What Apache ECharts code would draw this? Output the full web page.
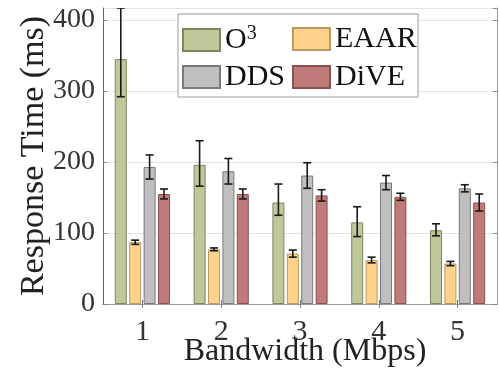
<!DOCTYPE html>
<html>
<head>
<meta charset="utf-8">
<script src="https://cdn.jsdelivr.net/npm/echarts@6/dist/echarts.min.js"></script>
<style>
  html, body { margin: 0; padding: 0; background: #fff; }
  #chart { width: 499px; height: 374px; }
</style>
</head>
<body>
<div id="chart"></div>
<script>
// Bandwidth settings (Mbps)
const categories = ['1', '2', '3', '4', '5'];

// Mean response time (ms) with lower / upper error extents per system
const o3Mean      = [345, 196, 143, 115, 104];
const o3ErrLow    = [53, 30, 18, 20, 8];
const o3ErrHigh   = [72, 34, 26, 22, 9];
const eaarMean    = [87, 77, 71, 62, 57];
const eaarErr     = [3, 2, 5, 4, 3];
const ddsMean     = [193, 187, 181, 171, 163];
const ddsErr      = [17, 18, 18, 10, 5];
const diveMean    = [155, 155, 153, 151, 143];
const diveErr     = [7, 7, 8, 5, 12];

const seriesNames = ['O3', 'EAAR', 'DDS', 'DiVE'];
const means = [o3Mean, eaarMean, ddsMean, diveMean];
const errLow = [o3ErrLow, eaarErr, ddsErr, diveErr];
const errHigh = [o3ErrHigh, eaarErr, ddsErr, diveErr];
const fills = ['#bec89b', '#ffd28c', '#bfbfc0', '#c07a7a'];
const edges = ['#7d8762', '#b89a63', '#7a7a7c', '#8a5252'];

const FONT = 'Liberation Serif';
const BAR_W = 12;
const BAR_GAP = 0.2; // fraction of bar width
const yTicks = [0, 100, 200, 300, 400];

const chart = echarts.init(document.getElementById('chart'), null, { renderer: 'canvas' });

function barOffset(i) {
  const n = seriesNames.length;
  const total = n * BAR_W + (n - 1) * BAR_W * BAR_GAP;
  return -total / 2 + BAR_W / 2 + i * BAR_W * (1 + BAR_GAP);
}

const barSeries = seriesNames.map((name, i) => ({
  name: name,
  type: 'bar',
  data: means[i],
  barWidth: BAR_W,
  barGap: (BAR_GAP * 100) + '%',
  itemStyle: { color: fills[i], borderColor: edges[i], borderWidth: 1 },
  z: 2
}));

const errSeries = seriesNames.map((name, i) => ({
  type: 'custom',
  name: name + '-err',
  clip: true,
  z: 5,
  data: means[i].map((m, k) => [k, m - errLow[i][k], m + errHigh[i][k]]),
  renderItem: function (params, api) {
    const k = api.value(0);
    const lo = api.coord([k, api.value(1)]);
    const hi = api.coord([k, api.value(2)]);
    const x = lo[0] + barOffset(i);
    const cap = 4;
    const style = { stroke: '#1a1a1a', lineWidth: 1.6 };
    return {
      type: 'group',
      children: [
        { type: 'line', shape: { x1: x, y1: lo[1], x2: x, y2: hi[1] }, style: style },
        { type: 'line', shape: { x1: x - cap, y1: lo[1], x2: x + cap, y2: lo[1] }, style: style },
        { type: 'line', shape: { x1: x - cap, y1: hi[1], x2: x + cap, y2: hi[1] }, style: style }
      ]
    };
  },
  encode: { x: 0, y: [1, 2] },
  tooltip: { show: false }
}));

// one legend block per entry, laid out as a 2x2 grid inside a framed box
const legendPos = [
  { left: 182, top: 24 },
  { left: 292, top: 24 },
  { left: 182, top: 62 },
  { left: 292, top: 62 }
];
const legendOrder = ['O3', 'EAAR', 'DDS', 'DiVE'];
const legends = legendOrder.map((name, j) => ({
  data: [name],
  left: legendPos[j].left,
  top: legendPos[j].top,
  orient: 'horizontal',
  itemWidth: 37,
  itemHeight: 22,
  icon: 'rect',
  padding: 0,
  selectedMode: false,
  z: 6,
  textStyle: name === 'O3'
    ? {
        fontFamily: FONT, fontSize: 30, color: '#111',
        rich: {
          base: { fontFamily: FONT, fontSize: 30, color: '#111' },
          sup: { fontFamily: FONT, fontSize: 20, color: '#111', verticalAlign: 'top', padding: [0, 0, 12, 0] }
        }
      }
    : { fontFamily: FONT, fontSize: 30, color: '#111' },
  formatter: function (n) {
    return n === 'O3' ? '{base|O}{sup|3}' : n;
  }
}));

const option = {
  animation: false,
  backgroundColor: '#fff',
  grid: { left: 103, right: 2, top: 8, bottom: 70, containLabel: false, outerBoundsMode: 'none' },
  legend: legends,
  xAxis: [
    {
      type: 'category',
      data: categories,
      position: 'bottom',
      name: 'Bandwidth (Mbps)',
      nameLocation: 'middle',
      nameGap: 32,
      nameMoveOverlap: false,
      nameTextStyle: { fontFamily: FONT, fontSize: 32, color: '#222', padding: [0, 0, 0, 10] },
      axisLine: { lineStyle: { color: '#555', width: 1 } },
      axisTick: { show: true, inside: true, alignWithLabel: true, length: 4, lineStyle: { color: '#777' } },
      axisLabel: { fontFamily: FONT, fontSize: 30, color: '#333', margin: 13 }
    },
    {
      type: 'category',
      data: categories,
      position: 'top',
      axisLine: { lineStyle: { color: '#999', width: 1 } },
      axisTick: { show: true, inside: true, alignWithLabel: true, length: 4, lineStyle: { color: '#888' } },
      axisLabel: { show: false }
    }
  ],
  yAxis: [
    {
      type: 'value',
      min: 0,
      max: 417,
      interval: 100,
      name: 'Response Time (ms)',
      nameLocation: 'middle',
      nameGap: 52,
      nameMoveOverlap: false,
      nameTextStyle: { fontFamily: FONT, fontSize: 34, color: '#222' },
      axisLine: { show: true, lineStyle: { color: '#666', width: 1 } },
      axisTick: { show: true, inside: true, length: 4, lineStyle: { color: '#888' } },
      axisLabel: {
        fontFamily: FONT, fontSize: 28, color: '#333', margin: 8,
        showMaxLabel: false,
        formatter: function (v) { return yTicks.indexOf(v) >= 0 ? String(v) : ''; }
      },
      splitLine: { show: true, lineStyle: { color: '#e3e3e3', width: 1 } }
    },
    {
      type: 'value',
      min: 0,
      max: 417,
      interval: 100,
      position: 'right',
      axisLine: { show: true, lineStyle: { color: '#999', width: 1 } },
      axisTick: { show: true, inside: true, length: 4, lineStyle: { color: '#888' } },
      axisLabel: { show: false },
      splitLine: { show: false }
    }
  ],
  graphic: [
    {
      type: 'rect',
      z: 4,
      shape: { x: 178, y: 14, width: 240, height: 83 },
      style: { fill: '#fff', stroke: '#9a9a9a', lineWidth: 1 }
    }
  ],
  series: barSeries.concat(errSeries)
};

chart.setOption(option);
</script>
</body>
</html>
